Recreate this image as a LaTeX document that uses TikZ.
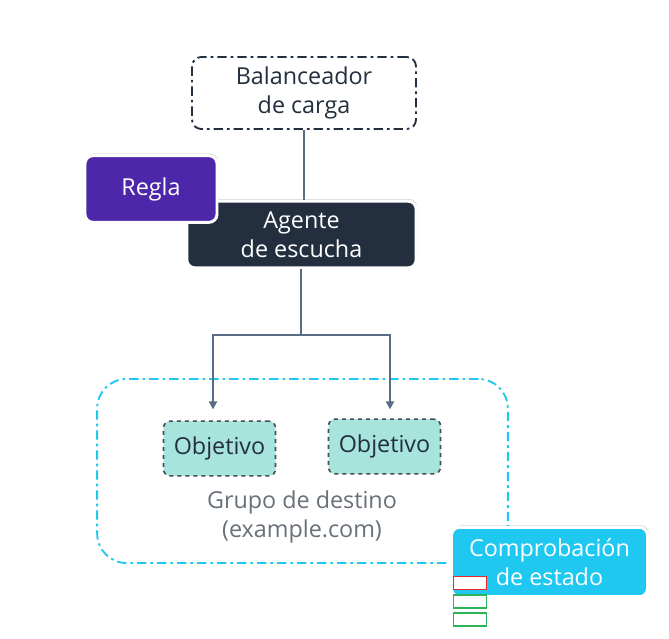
\documentclass[tikz,border=0pt]{standalone}
\usepackage{fontspec}
\setmainfont{Open Sans}
\usetikzlibrary{positioning, calc, arrows.meta, shadows, backgrounds}
\definecolor{awsdark}{HTML}{232F3E}
\definecolor{awspurple}{HTML}{4D27AA}
\definecolor{awscyan}{HTML}{1EC8F0}
\definecolor{awsteal}{HTML}{A6E4DC}
\definecolor{awsslate}{HTML}{5A6B86}
\definecolor{awsgray}{HTML}{687078}
\definecolor{hcred}{HTML}{E8262B}
\definecolor{hcgreen}{HTML}{2DB45A}
\tikzset{
  flow/.style={-{Triangle[length=6, width=6]}, draw=awsslate, line width=1.4},
  link/.style={-, draw=awsslate, line width=1.4},
  dashdot/.style={dash pattern=on 7 off 3 on 2 off 3},
  lb/.style={draw=awsdark, line width=1.4, dashdot, fill=white, rounded corners=7, minimum width=168pt, minimum height=54pt, text=awsdark},
  solid box/.style={draw=white, line width=2.2, rounded corners=6, text=white,
    drop shadow={shadow xshift=1.2, shadow yshift=-2, opacity=0.35}},
  target/.style={draw=awsdark!85, dashed, line width=1.2, fill=awsteal, rounded corners=5, minimum width=84pt, minimum height=41pt, text=awsdark},
  hc/.style={draw=#1, line width=1.1, fill=white, minimum width=25pt, minimum height=10pt, inner sep=0},
  every node/.style={align=center, font=\fontsize{17.5}{22}\selectfont}
}
\begin{document}
\begin{tikzpicture}[x=0.75pt, y=-0.75pt]
  \useasboundingbox[fill=white] (0,0) rectangle (669,639);
  % load balancer and listener
  \node[lb] (balancer) at (304,93) {Balanceador\\de carga};
  \node[solid box, fill=awsdark, minimum width=172pt, minimum height=50pt] (listener) at (301.5,234.5) {Agente\\de escucha};
  \node[solid box, fill=awspurple, minimum width=99pt, minimum height=50pt] (rule) at (151,189) {Regla};
  \draw[link] (balancer) -- (balancer |- listener.north);
  % target group
  \node[draw=awscyan, line width=1.4, dashdot, rounded corners=22, minimum width=308pt, minimum height=138pt] (group) at (302.5,471) {};
  \node[target] (target1) at (219.5,448.5) {Objetivo};
  \node[target] (target2) at (384.5,446.5) {Objetivo};
  \node[text=awsgray] (grouplabel) at (302,517) {Grupo de destino\\(example.com)};
  \coordinate (split) at (301,335);
  \draw[link] (listener.south -| split) -- (split);
  \draw[flow] (split) -| ($(target1.north)+(-6.5,-11)$);
  \draw[flow] (split) -| ($(target2.north)+(5.5,-9)$);
  % health check
  \node[solid box, fill=awscyan, minimum width=147pt, minimum height=52pt] (health) at (549.5,562) {Comprobación\\de estado};
  \node[hc=hcred] (hcfail) at (470,583) {};
  \node[hc=hcgreen] (hcok1) at (470,601.5) {};
  \node[hc=hcgreen] (hcok2) at (470,619.5) {};
\end{tikzpicture}
\end{document}
